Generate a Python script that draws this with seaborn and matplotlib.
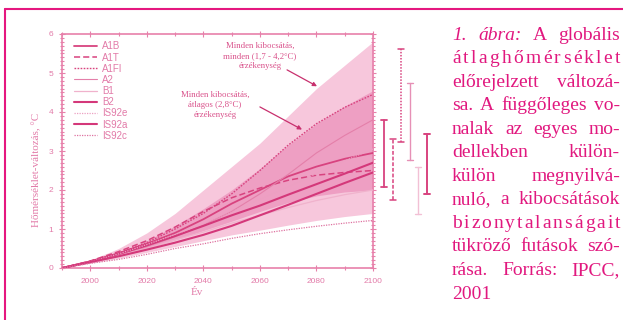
import numpy as np
import pandas as pd
import matplotlib
matplotlib.use("Agg")
import matplotlib.pyplot as plt
from matplotlib.lines import Line2D
from matplotlib.ticker import MultipleLocator
import seaborn as sns

# ---------------------------------------------------------------- data
years = [1990, 2000, 2010, 2020, 2030, 2040, 2050, 2060, 2070, 2080, 2090, 2100]

# envelopes: all emissions, all sensitivities / all emissions, average sensitivity
env_all_lower = [0, 0.12, 0.25, 0.40, 0.55, 0.70, 0.85, 0.97, 1.10, 1.22, 1.32, 1.40]
env_all_upper = [0, 0.20, 0.50, 0.90, 1.40, 2.00, 2.60, 3.20, 3.90, 4.60, 5.20, 5.80]
env_avg_lower = [0, 0.14, 0.30, 0.50, 0.72, 0.96, 1.20, 1.45, 1.68, 1.85, 1.95, 2.00]
env_avg_upper = [0, 0.18, 0.40, 0.70, 1.08, 1.52, 2.00, 2.55, 3.15, 3.70, 4.15, 4.55]

# scenario curves
a1b   = [0, 0.17, 0.38, 0.62, 0.90, 1.25, 1.65, 2.00, 2.35, 2.60, 2.80, 2.95]
a1t   = [0, 0.18, 0.42, 0.70, 1.05, 1.45, 1.80, 2.05, 2.25, 2.38, 2.45, 2.50]
a1fi  = [0, 0.16, 0.38, 0.65, 1.00, 1.40, 1.90, 2.50, 3.15, 3.70, 4.12, 4.45]
a2    = [0, 0.16, 0.33, 0.55, 0.80, 1.10, 1.45, 1.90, 2.40, 2.95, 3.40, 3.80]
b1    = [0, 0.15, 0.32, 0.50, 0.72, 0.92, 1.15, 1.35, 1.55, 1.73, 1.88, 2.00]
b2    = [0, 0.16, 0.36, 0.58, 0.82, 1.08, 1.35, 1.60, 1.88, 2.15, 2.42, 2.70]
is92e = [0, 0.16, 0.36, 0.60, 0.86, 1.14, 1.44, 1.76, 2.08, 2.42, 2.75, 3.05]
is92a = [0, 0.15, 0.30, 0.47, 0.65, 0.85, 1.08, 1.35, 1.62, 1.90, 2.18, 2.45]
is92c = [0, 0.12, 0.22, 0.35, 0.50, 0.62, 0.76, 0.88, 0.98, 1.07, 1.15, 1.22]

scenario_names = ["A1B", "A1T", "A1FI", "A2", "B1", "B2", "IS92e", "IS92a", "IS92c"]
scenario_values = [a1b, a1t, a1fi, a2, b1, b2, is92e, is92a, is92c]

# ranges in 2100 across models (bars right of the plot)
bar_names = ["A1B", "A1T", "A1FI", "A2", "B1", "B2"]
bar_low   = [2.08, 1.74, 3.23, 2.77, 1.38, 1.90]
bar_high  = [3.79, 3.31, 5.62, 4.74, 2.59, 3.44]

y_ticks = [0, 1, 2, 3, 4, 5, 6]
x_ticks = [2000, 2020, 2040, 2060, 2080, 2100]

# ---------------------------------------------------------------- style
sns.set_theme(style="white")
plt.rcParams["font.family"] = ["Liberation Sans", "DejaVu Sans"]

AX_COL = "#e780aa"
TXT_COL = "#e27aa8"
DARK = "#d8437f"
CAPTION_COL = "#e1187f"

line_styles = {
    "A1B":   dict(color=DARK, lw=1.3, ls="-"),
    "A1T":   dict(color=DARK, lw=1.1, ls=(0, (4, 2))),
    "A1FI":  dict(color=DARK, lw=1.0, ls=(0, (1.2, 1))),
    "A2":    dict(color="#e47fa9", lw=0.8, ls="-"),
    "B1":    dict(color="#f0b2cc", lw=0.9, ls="-"),
    "B2":    dict(color="#d4387a", lw=1.5, ls="-"),
    "IS92e": dict(color="#eca0c2", lw=0.9, ls=(0, (1, 1))),
    "IS92a": dict(color="#d4387a", lw=1.5, ls="-"),
    "IS92c": dict(color="#de72a0", lw=0.9, ls=(0, (1, 1))),
}

W, H = 623, 320
fig = plt.figure(figsize=(W / 100, H / 100), dpi=100)
fig.patch.set_facecolor("white")

ax_l, ax_r, ax_t, ax_b = 62, 373, 34, 268
ax = fig.add_axes([ax_l / W, 1 - ax_b / H, (ax_r - ax_l) / W, (ax_b - ax_t) / H])
ax.set_facecolor("white")

# bands
ax.fill_between(years, env_all_lower, env_all_upper, color="#f7c7dc", lw=0, zorder=1)
ax.fill_between(years, env_avg_lower, env_avg_upper, color="#ee9fc3", lw=0, zorder=2)

# scenario lines
df = pd.DataFrame({
    "year": np.tile(years, len(scenario_names)),
    "value": np.concatenate(scenario_values),
    "scenario": np.repeat(scenario_names, len(years)),
})
for name in scenario_names:
    st = line_styles[name]
    sub = df[df["scenario"] == name]
    sns.lineplot(data=sub, x="year", y="value", ax=ax, color=st["color"],
                 linewidth=st["lw"], linestyle=st["ls"], legend=False, zorder=3)

ax.set_xlim(1990, 2100)
ax.set_ylim(0, 6)
ax.set_xticks(x_ticks)
ax.set_yticks(y_ticks)
ax.xaxis.set_minor_locator(MultipleLocator(10))
ax.yaxis.set_minor_locator(MultipleLocator(0.1))
ax.tick_params(which="both", direction="inout", top=True, right=True,
               bottom=True, left=True, color=AX_COL, labelcolor=TXT_COL,
               labelsize=6, width=0.8)
ax.tick_params(which="major", length=5)
ax.tick_params(which="minor", length=2.5)
ax.tick_params(axis="y", pad=4)
ax.tick_params(axis="x", pad=5)
for s in ax.spines.values():
    s.set_color(AX_COL)
    s.set_linewidth(1.2)

ax.set_xlabel("Év", fontsize=8, color=TXT_COL, family="Liberation Serif")
ax.set_ylabel("Hőmérséklet-változás, °C", fontsize=8, color=TXT_COL,
              family="Liberation Serif")
ax.xaxis.set_label_coords(0.434, -0.085)
ax.yaxis.set_label_coords(-0.066, 0.42)

# legend
handles = [Line2D([], [], color=line_styles[n]["color"], lw=line_styles[n]["lw"],
                  ls=line_styles[n]["ls"]) for n in scenario_names]
leg = ax.legend(handles, scenario_names, loc="upper left", bbox_to_anchor=(0.025, 0.985),
                frameon=False, fontsize=7, handlelength=2.4, handletextpad=0.5,
                labelspacing=0.12, borderaxespad=0)
for t in leg.get_texts():
    t.set_color(TXT_COL)

# model range bars beyond 2100
bar_styles = [
    dict(color=DARK, lw=1.3, ls="-"),
    dict(color=DARK, lw=1.1, ls=(0, (2.5, 1.2))),
    dict(color=DARK, lw=1.1, ls=(0, (1, 1))),
    dict(color="#e690b6", lw=1.0, ls="-"),
    dict(color="#f2c0d5", lw=1.0, ls="-"),
    dict(color=DARK, lw=1.4, ls="-"),
]
for i, (lo, hi) in enumerate(zip(bar_low, bar_high)):
    x = 2104 + 3 * i
    st = bar_styles[i]
    ax.plot([x, x], [lo, hi], color=st["color"], lw=st["lw"], ls=st["ls"],
            clip_on=False, zorder=4)
    for yv in (lo, hi):
        ax.plot([x - 1.0, x + 1.0], [yv, yv], color=st["color"], lw=st["lw"],
                clip_on=False, zorder=4)

# annotations
NOTE_COL = "#d9508a"
ARROW_COL = "#c8306e"
ax.text(2060.0, 5.44, "Minden kibocsátás,\nminden (1,7 - 4,2°C)\nérzékenység",
        ha="center", va="center", fontsize=6.3, color=NOTE_COL,
        family="Liberation Serif", linespacing=1.3, zorder=5)
ax.annotate("", xy=(2080.2, 4.66), xytext=(2069.6, 5.08),
            arrowprops=dict(arrowstyle="-|>", color=ARROW_COL, lw=0.9,
                            mutation_scale=6, shrinkA=0, shrinkB=0), zorder=5)
ax.text(2044.1, 4.18, "Minden kibocsátás,\nátlagos (2,8°C)\nérzékenység",
        ha="center", va="center", fontsize=6.3, color=NOTE_COL,
        family="Liberation Serif", linespacing=1.3, zorder=5)
ax.annotate("", xy=(2074.9, 3.55), xytext=(2060.0, 4.13),
            arrowprops=dict(arrowstyle="-|>", color=ARROW_COL, lw=0.9,
                            mutation_scale=6, shrinkA=0, shrinkB=0), zorder=5)

# frame lines of the page box
fig.add_artist(Line2D([5 / W, 1.0], [1 - 9 / H, 1 - 9 / H], transform=fig.transFigure,
                      color="#e5177f", lw=1.5))
fig.add_artist(Line2D([5 / W, 5 / W], [1 - 9 / H, 0], transform=fig.transFigure,
                      color="#e5177f", lw=1.5))

# caption, justified between two margins
caption_lines = [
    ([("1.", True), ("ábra:", True), ("A", False), ("globális", False)], True),
    ([("átlaghőmérséklet", False)], True),
    ([("előrejelzett", False), ("változá-", False)], True),
    ([("sa.", False), ("A", False), ("függőleges", False), ("vo-", False)], True),
    ([("nalak", False), ("az", False), ("egyes", False), ("mo-", False)], True),
    ([("dellekben", False), ("külön-", False)], True),
    ([("külön", False), ("megnyilvá-", False)], True),
    ([("nuló,", False), ("a", False), ("kibocsátások", False)], True),
    ([("bizonytalanságait", False)], True),
    ([("tükröző", False), ("futások", False), ("szó-", False)], True),
    ([("rása.", False), ("Forrás:", False), ("IPCC,", False)], True),
    ([("2001", False)], False),
]
CAP_X0, CAP_X1 = 452, 620
CAP_Y0, CAP_DY = 39.5, 23.55
CAP_FS = 14

renderer = fig.canvas.get_renderer()


def place_line(words, baseline, justify):
    pieces = words
    if justify and len(words) == 1:
        pieces = [(ch, words[0][1]) for ch in words[0][0]]
    arts, widths = [], []
    for txt, it in pieces:
        a = fig.text(CAP_X0 / W, 1 - baseline / H, txt, fontsize=CAP_FS,
                     family="Liberation Serif", style="italic" if it else "normal",
                     color=CAPTION_COL, ha="left", va="baseline")
        arts.append(a)
        widths.append(a.get_window_extent(renderer).width)
    if justify and len(arts) > 1:
        gap = (CAP_X1 - CAP_X0 - sum(widths)) / (len(arts) - 1)
    else:
        probe = fig.text(0, 0, "a a", fontsize=CAP_FS, family="Liberation Serif")
        probe2 = fig.text(0, 0, "aa", fontsize=CAP_FS, family="Liberation Serif")
        gap = probe.get_window_extent(renderer).width - probe2.get_window_extent(renderer).width
        probe.remove()
        probe2.remove()
    x = CAP_X0
    for a, w in zip(arts, widths):
        a.set_x(x / W)
        x += w + gap


for i, (words, just) in enumerate(caption_lines):
    place_line(words, CAP_Y0 + i * CAP_DY, just)

fig.savefig("out.png", dpi=100)
